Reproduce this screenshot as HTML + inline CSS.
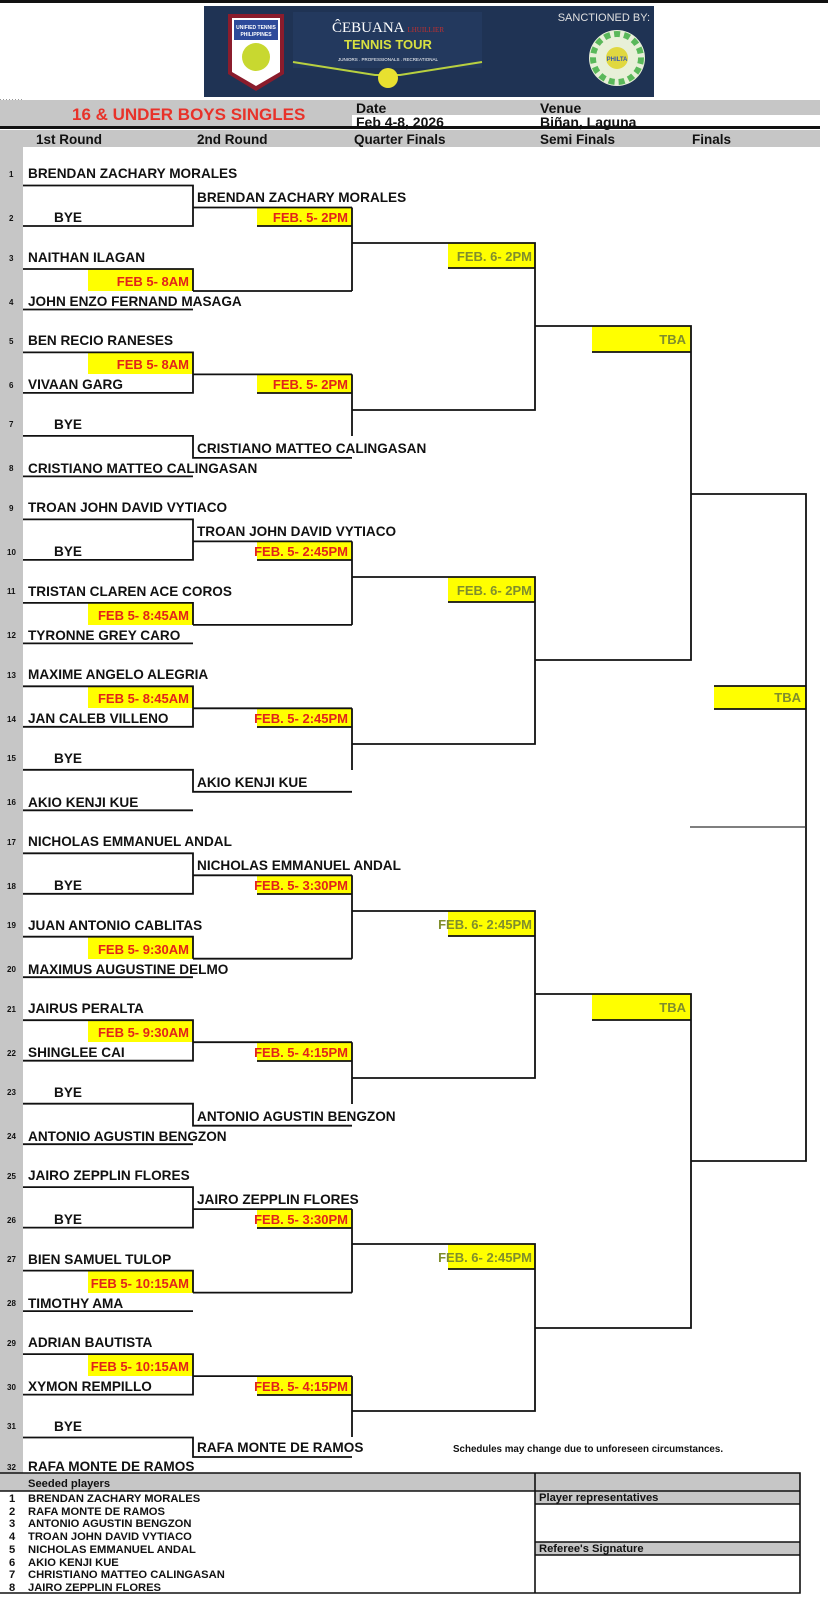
<!DOCTYPE html>
<html><head><meta charset="utf-8"><style>
html,body{margin:0;padding:0;background:#fff;}
svg{display:block;font-family:"Liberation Sans",Arial,sans-serif;}
.n{font-size:13.6px;font-weight:bold;fill:#111;}
.s{font-size:8px;font-weight:bold;fill:#111;}
.r{font-size:13px;font-weight:bold;fill:#e2231a;text-anchor:end;}
.o{font-size:13px;font-weight:bold;fill:#808e2c;text-anchor:end;}
.t{font-size:11.2px;font-weight:bold;fill:#111;}
.l{stroke:#111;stroke-width:1.8;fill:none;}
</style></head><body>
<svg width="828" height="1600" viewBox="0 0 828 1600" xmlns="http://www.w3.org/2000/svg">
<rect x="0" y="0" width="828" height="3" fill="#111"/>
<!-- logo -->
<rect x="204" y="6" width="450" height="91" fill="#1f3354"/>
<path d="M228 14 L284 14 L284 74 L256 91 L228 74 Z" fill="#8b1c2c"/>
<path d="M232 18 L280 18 L280 72 L256 86 L232 72 Z" fill="#fff"/>
<path d="M234 20 L278 20 L278 40 L234 40 Z" fill="#2d4a9a"/>
<text x="256" y="29" font-size="5" font-weight="bold" fill="#fff" text-anchor="middle">UNIFIED TENNIS</text>
<text x="256" y="36" font-size="5" font-weight="bold" fill="#fff" text-anchor="middle">PHILIPPINES</text>
<circle cx="256" cy="57" r="14" fill="#c8d830"/>
<rect x="293" y="12" width="189" height="56" fill="#23395e"/>
<text x="388" y="32" font-size="15" font-family="Liberation Serif,serif" fill="#fff" text-anchor="middle">ĈEBUANA <tspan font-size="7" fill="#c03030">LHUILLIER</tspan></text>
<text x="388" y="49" font-size="13" font-weight="bold" fill="#d8e040" text-anchor="middle">TENNIS TOUR</text>
<text x="388" y="61" font-size="4.5" fill="#fff" text-anchor="middle">JUNIORS . PROFESSIONALS . RECREATIONAL</text>
<path d="M293 62 L375 75 L400 75 L482 62" stroke="#b8d040" stroke-width="2" fill="none"/>
<circle cx="388" cy="78" r="10" fill="#e8e030"/>
<text x="650" y="21" font-size="11" fill="#e0e0e0" text-anchor="end">SANCTIONED BY:</text>
<circle cx="617" cy="58" r="28" fill="#e8f0d8"/>
<circle cx="617" cy="58" r="24" fill="none" stroke="#5ab85a" stroke-width="6" stroke-dasharray="6 4"/>
<circle cx="617" cy="58" r="11" fill="#e0d840"/>
<text x="617" y="61" font-size="6" font-weight="bold" fill="#3a5ab0" text-anchor="middle">PHILTA</text>
<!-- dots -->
<line x1="0" y1="100" x2="23" y2="100" stroke="#333" stroke-width="1" stroke-dasharray="1 2"/>
<!-- header -->
<rect x="0" y="100" width="820" height="26" fill="#c6c6c6"/>
<rect x="352" y="115" width="468" height="11" fill="#fff"/>
<text x="72" y="120" font-size="17" font-weight="bold" fill="#e8322a">16 &amp; UNDER BOYS SINGLES</text>
<text x="356" y="113" font-size="14" font-weight="bold" fill="#111">Date</text>
<text x="356" y="127" font-size="14" font-weight="bold" fill="#111">Feb 4-8, 2026</text>
<text x="540" y="113" font-size="14" font-weight="bold" fill="#111">Venue</text>
<text x="540" y="127" font-size="14" font-weight="bold" fill="#111">Biñan, Laguna</text>
<rect x="0" y="126" width="820" height="3" fill="#111"/>
<rect x="0" y="130" width="820" height="17" fill="#c6c6c6"/>
<rect x="0" y="130" width="23" height="1343" fill="#c6c6c6"/>
<g font-size="13.5" font-weight="bold" fill="#111">
<text x="36" y="144">1st Round</text><text x="197" y="144">2nd Round</text><text x="354" y="144">Quarter Finals</text><text x="540" y="144">Semi Finals</text><text x="692" y="144">Finals</text>
</g>
<!-- player numbers -->
<g class="s">
<text x="9" y="177">1</text><text x="9" y="221">2</text><text x="9" y="261">3</text><text x="9" y="305">4</text>
<text x="9" y="344">5</text><text x="9" y="388">6</text><text x="9" y="427">7</text><text x="9" y="471">8</text>
<text x="9" y="511">9</text><text x="7" y="555">10</text><text x="7" y="594">11</text><text x="7" y="638">12</text>
<text x="7" y="678">13</text><text x="7" y="722">14</text><text x="7" y="761">15</text><text x="7" y="805">16</text>
<text x="7" y="845">17</text><text x="7" y="889">18</text><text x="7" y="928">19</text><text x="7" y="972">20</text>
<text x="7" y="1012">21</text><text x="7" y="1056">22</text><text x="7" y="1095">23</text><text x="7" y="1139">24</text>
<text x="7" y="1179">25</text><text x="7" y="1223">26</text><text x="7" y="1262">27</text><text x="7" y="1306">28</text>
<text x="7" y="1346">29</text><text x="7" y="1390">30</text><text x="7" y="1429">31</text><text x="7" y="1470">32</text>
</g>
<!-- yellow boxes -->
<g fill="#ffff00">
<rect x="88" y="269" width="105" height="22"/><rect x="88" y="352" width="105" height="22"/>
<rect x="88" y="603" width="105" height="22"/><rect x="88" y="686" width="105" height="22"/>
<rect x="88" y="937" width="105" height="22"/><rect x="88" y="1020" width="105" height="22"/>
<rect x="88" y="1271" width="105" height="22"/><rect x="88" y="1354" width="105" height="22"/>
<rect x="257" y="208" width="95" height="18"/><rect x="257" y="375" width="95" height="18"/>
<rect x="257" y="542" width="95" height="18"/><rect x="257" y="709" width="95" height="18"/>
<rect x="257" y="876" width="95" height="18"/><rect x="257" y="1043" width="95" height="18"/>
<rect x="257" y="1210" width="95" height="18"/><rect x="257" y="1377" width="95" height="18"/>
<rect x="448" y="243" width="87" height="25"/><rect x="448" y="577" width="87" height="25"/>
<rect x="448" y="911" width="87" height="25"/><rect x="448" y="1244" width="87" height="25"/>
<rect x="592" y="326" width="99" height="26"/><rect x="592" y="994" width="99" height="26"/>
<rect x="714" y="686" width="92" height="23"/>
</g>
<!-- lines -->
<g class="l">
<path d="M23 185.5H193V226H23M193 207.5H352"/>
<path d="M23 269H193V291M23 309.5H193M193 291H352"/>
<path d="M23 352.4H193V392.9H23M193 374.4H352"/>
<path d="M23 435.9H193V457.9H352M23 476.4H193"/>
<path d="M23 519.4H193V559.9H23M193 541.4H352"/>
<path d="M23 602.9H193V624.9M23 643.4H193M193 624.9H352"/>
<path d="M23 686.3H193V726.8H23M193 708.3H352"/>
<path d="M23 769.8H193V791.8H352M23 810.3H193"/>
<path d="M23 853.3H193V893.8H23M193 875.3H352"/>
<path d="M23 936.7H193V958.7M23 977.2H193M193 958.7H352"/>
<path d="M23 1020.2H193V1060.7H23M193 1042.2H352"/>
<path d="M23 1103.7H193V1125.7H352M23 1144.2H193"/>
<path d="M23 1187.1H193V1227.6H23M193 1209.1H352"/>
<path d="M23 1270.6H193V1292.6M23 1311.1H193M193 1292.6H352"/>
<path d="M23 1354.1H193V1394.6H23M193 1376.1H352"/>
<path d="M23 1437.5H193V1457H352"/>
<path d="M257 226H352M257 393H352M257 560H352M257 727H352M257 894H352M257 1061H352M257 1228H352M257 1395H352"/>
<path d="M352 207.5V291M352 374.4V436M352 541.4V624.9M352 708.3V770M352 875.3V958.7M352 1042.2V1104M352 1209.1V1292.6M352 1376.1V1437"/>
<path d="M352 243H535V410H352M352 577H535V744H352M352 911H535V1078H352M352 1244H535V1411H352"/>
<path d="M448 268H535M448 602H535M448 936H535M448 1269H535"/>
<path d="M535 326H691V660H535M535 994H691V1328H535"/>
<path d="M592 352H691M592 1020H691"/>
<path d="M691 494H806V1161H691"/>
<path d="M714 686H806M714 709H806"/>
</g>
<line x1="690" y1="827" x2="806" y2="827" stroke="#333" stroke-width="1.3"/>
<!-- R1 names -->
<g class="n">
<text x="28" y="178">BRENDAN ZACHARY MORALES</text><text x="54" y="222">BYE</text>
<text x="28" y="262">NAITHAN ILAGAN</text><text x="28" y="306">JOHN ENZO FERNAND MASAGA</text>
<text x="28" y="345">BEN RECIO RANESES</text><text x="28" y="389">VIVAAN GARG</text>
<text x="54" y="429">BYE</text><text x="28" y="473">CRISTIANO MATTEO CALINGASAN</text>
<text x="28" y="512">TROAN JOHN DAVID VYTIACO</text><text x="54" y="556">BYE</text>
<text x="28" y="596">TRISTAN CLAREN ACE COROS</text><text x="28" y="640">TYRONNE GREY CARO</text>
<text x="28" y="679">MAXIME ANGELO ALEGRIA</text><text x="28" y="723">JAN CALEB VILLENO</text>
<text x="54" y="763">BYE</text><text x="28" y="807">AKIO KENJI KUE</text>
<text x="28" y="846">NICHOLAS EMMANUEL ANDAL</text><text x="54" y="890">BYE</text>
<text x="28" y="930">JUAN ANTONIO CABLITAS</text><text x="28" y="974">MAXIMUS AUGUSTINE DELMO</text>
<text x="28" y="1013">JAIRUS PERALTA</text><text x="28" y="1057">SHINGLEE CAI</text>
<text x="54" y="1097">BYE</text><text x="28" y="1141">ANTONIO AGUSTIN BENGZON</text>
<text x="28" y="1180">JAIRO ZEPPLIN FLORES</text><text x="54" y="1224">BYE</text>
<text x="28" y="1264">BIEN SAMUEL TULOP</text><text x="28" y="1308">TIMOTHY AMA</text>
<text x="28" y="1347">ADRIAN BAUTISTA</text><text x="28" y="1391">XYMON REMPILLO</text>
<text x="54" y="1431">BYE</text><text x="28" y="1471">RAFA MONTE DE RAMOS</text>
<text x="197" y="202">BRENDAN ZACHARY MORALES</text>
<text x="197" y="453">CRISTIANO MATTEO CALINGASAN</text>
<text x="197" y="536">TROAN JOHN DAVID VYTIACO</text>
<text x="197" y="787">AKIO KENJI KUE</text>
<text x="197" y="870">NICHOLAS EMMANUEL ANDAL</text>
<text x="197" y="1121">ANTONIO AGUSTIN BENGZON</text>
<text x="197" y="1204">JAIRO ZEPPLIN FLORES</text>
<text x="197" y="1452">RAFA MONTE DE RAMOS</text>
</g>
<g class="r">
<text x="189" y="286">FEB 5- 8AM</text><text x="189" y="369">FEB 5- 8AM</text>
<text x="189" y="620">FEB 5- 8:45AM</text><text x="189" y="703">FEB 5- 8:45AM</text>
<text x="189" y="954">FEB 5- 9:30AM</text><text x="189" y="1037">FEB 5- 9:30AM</text>
<text x="189" y="1288">FEB 5- 10:15AM</text><text x="189" y="1371">FEB 5- 10:15AM</text>
<text x="348" y="222">FEB. 5- 2PM</text><text x="348" y="389">FEB. 5- 2PM</text>
<text x="348" y="556">FEB. 5- 2:45PM</text><text x="348" y="723">FEB. 5- 2:45PM</text>
<text x="348" y="890">FEB. 5- 3:30PM</text><text x="348" y="1057">FEB. 5- 4:15PM</text>
<text x="348" y="1224">FEB. 5- 3:30PM</text><text x="348" y="1391">FEB. 5- 4:15PM</text>
</g>
<g class="o">
<text x="532" y="261">FEB. 6- 2PM</text><text x="532" y="595">FEB. 6- 2PM</text>
<text x="532" y="929">FEB. 6- 2:45PM</text><text x="532" y="1262">FEB. 6- 2:45PM</text>
<text x="686" y="344">TBA</text><text x="686" y="1012">TBA</text><text x="801" y="702">TBA</text>
</g>
<text x="453" y="1452" font-size="9.8" font-weight="bold" fill="#111">Schedules may change due to unforeseen circumstances.</text>
<rect x="0" y="1473" width="800" height="18" fill="#c6c6c6"/>
<rect x="535" y="1491" width="265" height="13" fill="#c6c6c6"/>
<rect x="535" y="1542" width="265" height="13" fill="#c6c6c6"/>
<g stroke="#111" stroke-width="1.6" fill="none">
<path d="M0 1473H800V1593H0M0 1491H800M535 1473V1593M535 1504H800M535 1542H800M535 1555H800"/>
</g>
<text x="28" y="1487" class="t">Seeded players</text>
<text x="539" y="1501" class="t">Player representatives</text>
<text x="539" y="1552" class="t">Referee's Signature</text>
<g class="t">
<text x="9" y="1502">1</text><text x="28" y="1502">BRENDAN ZACHARY MORALES</text>
<text x="9" y="1515">2</text><text x="28" y="1515">RAFA MONTE DE RAMOS</text>
<text x="9" y="1527">3</text><text x="28" y="1527">ANTONIO AGUSTIN BENGZON</text>
<text x="9" y="1540">4</text><text x="28" y="1540">TROAN JOHN DAVID VYTIACO</text>
<text x="9" y="1553">5</text><text x="28" y="1553">NICHOLAS EMMANUEL ANDAL</text>
<text x="9" y="1566">6</text><text x="28" y="1566">AKIO KENJI KUE</text>
<text x="9" y="1578">7</text><text x="28" y="1578">CHRISTIANO MATTEO CALINGASAN</text>
<text x="9" y="1591">8</text><text x="28" y="1591">JAIRO ZEPPLIN FLORES</text>
</g>
</svg>
</body></html>
